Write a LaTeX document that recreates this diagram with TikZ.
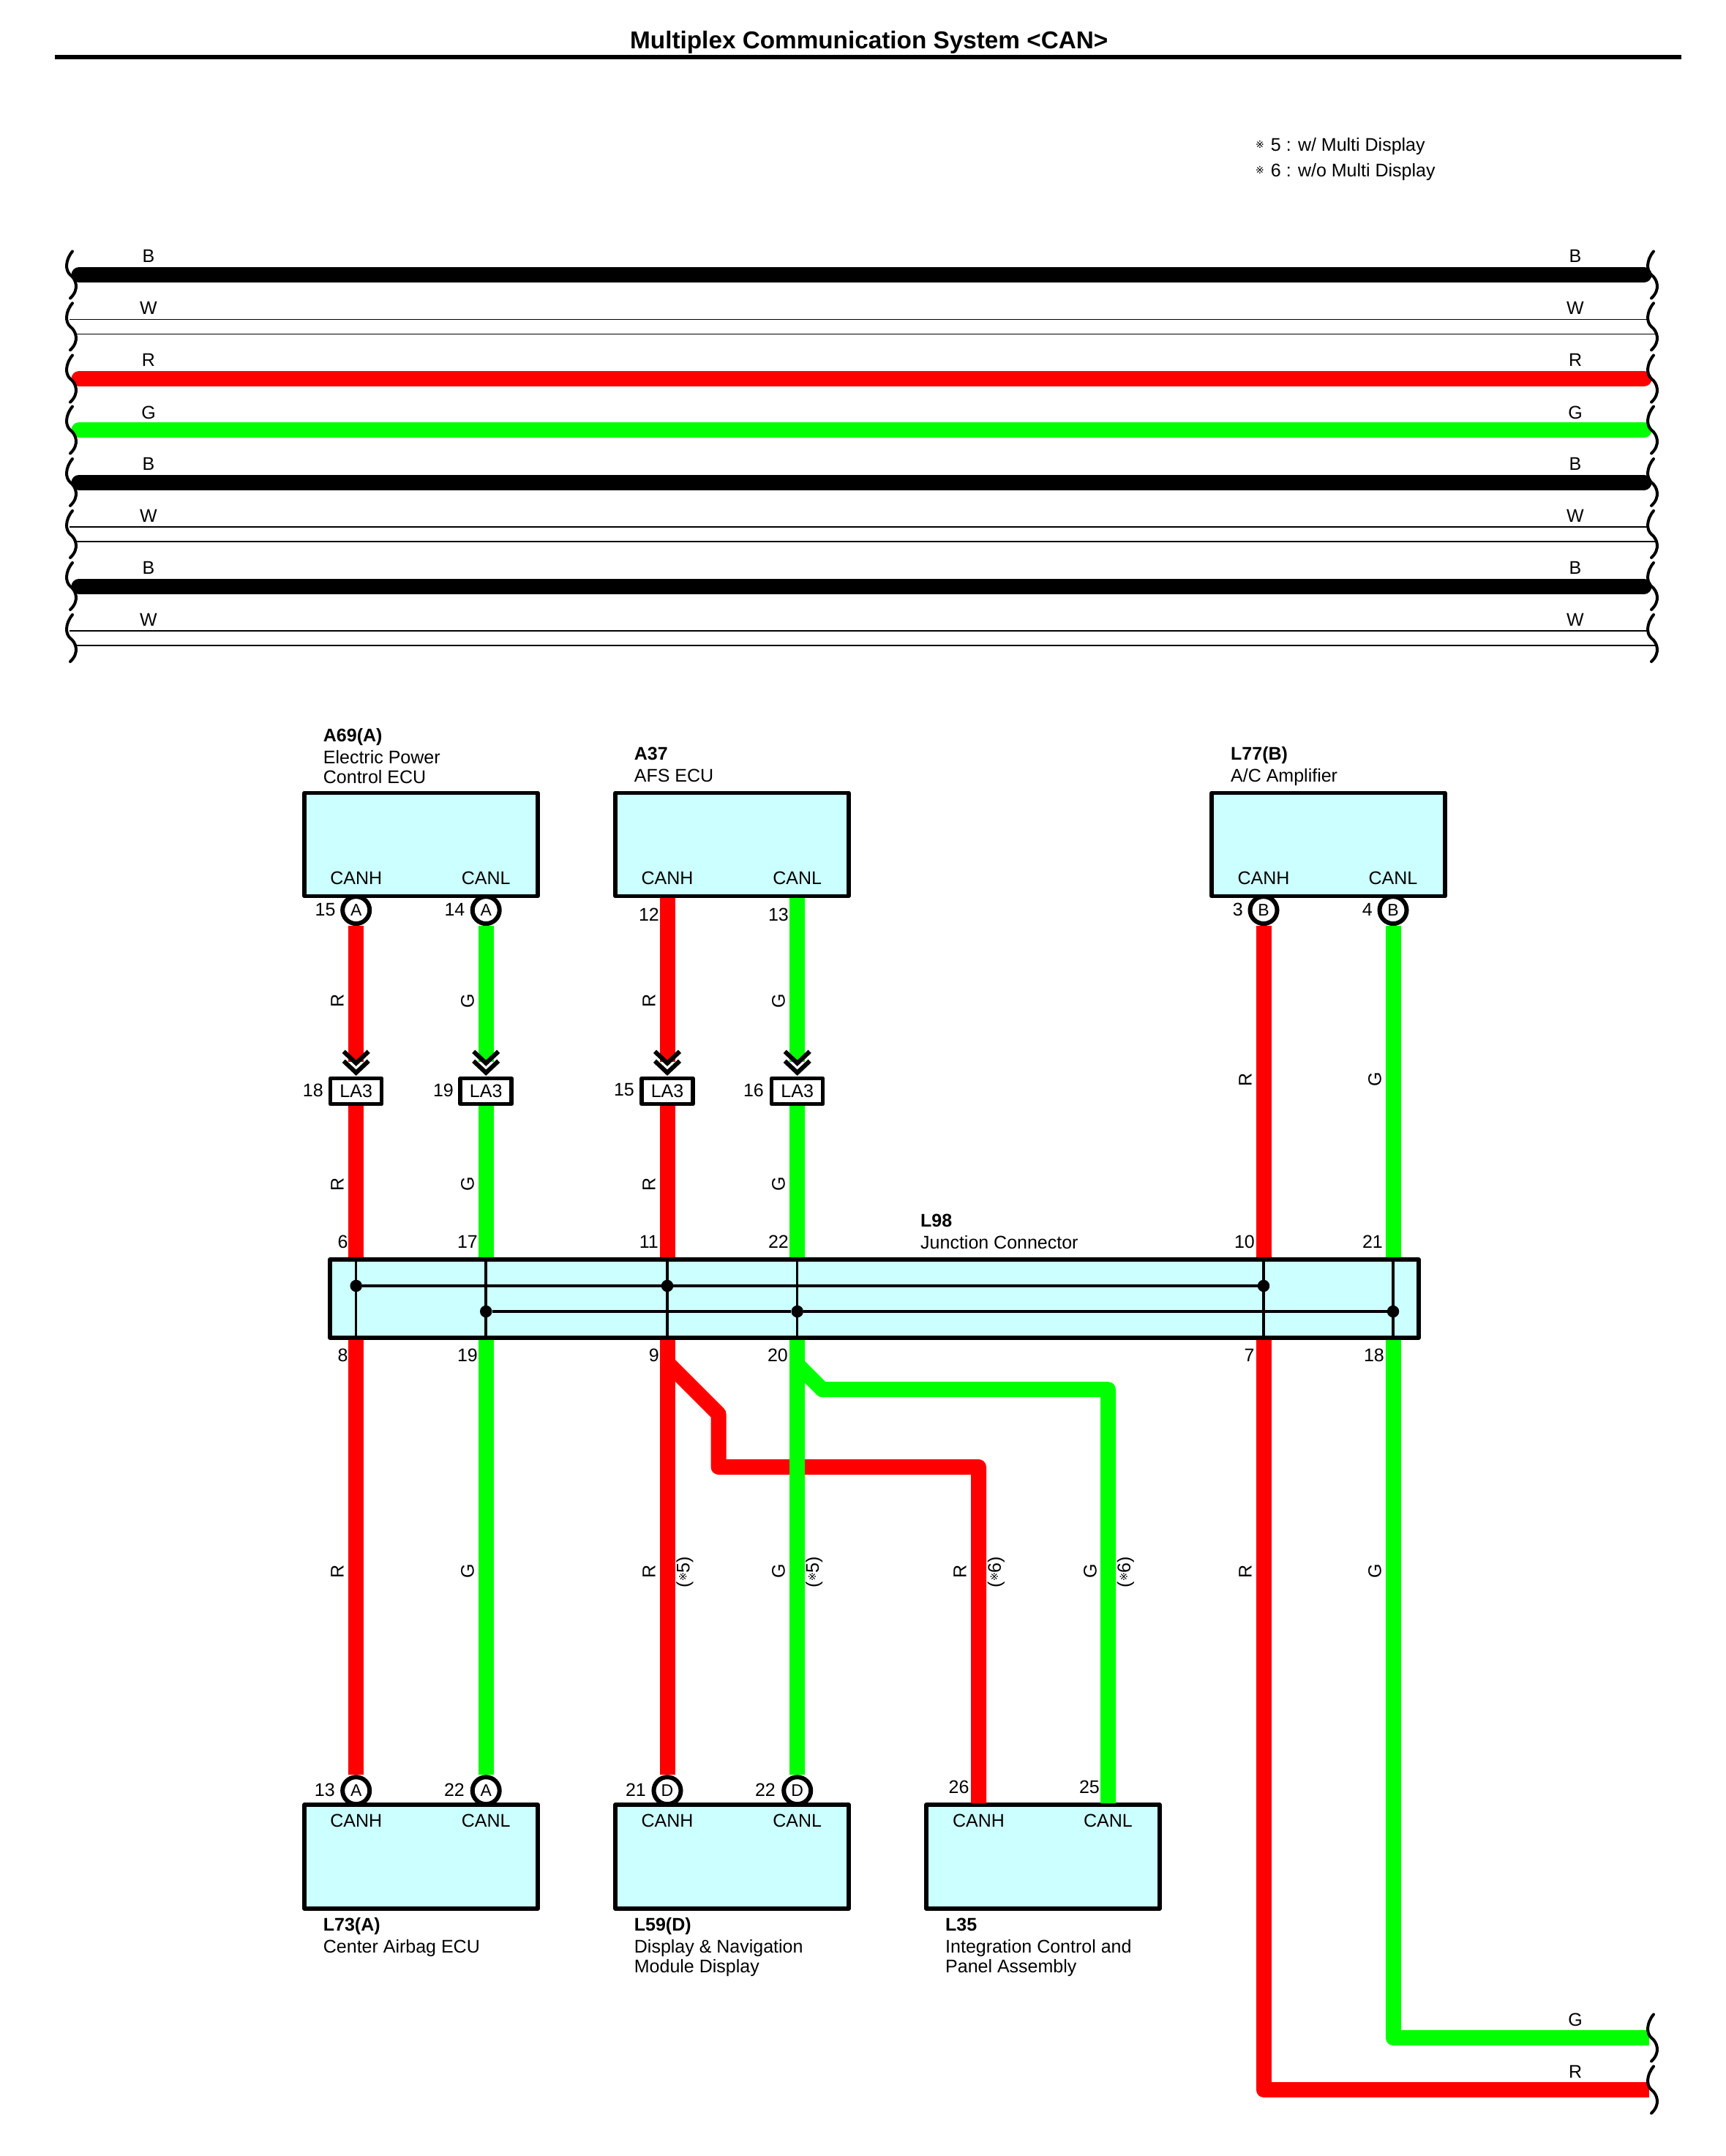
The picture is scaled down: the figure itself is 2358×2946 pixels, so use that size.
\documentclass[tikz,border=0pt]{standalone}
\usepackage{fontspec}
\setmainfont{Liberation Sans}
\newfontfamily\symfont{DejaVu Sans}
\newcommand{\refmark}{{\symfont\fontsize{14}{14}\selectfont\raisebox{4pt}{※}}}
\definecolor{boxfill}{HTML}{CCFFFF}
\definecolor{wirered}{HTML}{FF0000}
\definecolor{wiregreen}{HTML}{00FF00}
\tikzset{
  brk/.pic={\draw[line width=4pt, line cap=round] (3,-32) .. controls (-7,-20) and (-7,-6) .. (0,0) .. controls (8,6) and (13,20) .. (0,32);},
  chev/.pic={\draw[line width=6pt] (-17,-34) -- (0,-18) -- (17,-34); \draw[line width=6pt] (-17,-21) -- (0,-5) -- (17,-21);}
}
\begin{document}
\begin{tikzpicture}[x=1pt, y=-1pt]
        \tikzstyle{every node}=[inner sep=0pt, font=\fontsize{25}{27}\selectfont, text=black]
        \tikzstyle{ecubox}=[rectangle, draw=black, fill=boxfill, line width=5.5pt, line join=round, minimum width=319pt, minimum height=142pt]
        \tikzstyle{junction}=[rectangle, draw=black, fill=boxfill, line width=5.5pt, line join=round, minimum width=1488pt, minimum height=107pt]
        \tikzstyle{lathree}=[rectangle, draw=black, fill=white, line width=5.5pt, line join=round, minimum width=70pt, minimum height=35pt]
        \tikzstyle{pinmark}=[circle, draw=black, fill=white, line width=6pt, minimum size=37pt, font=\fontsize{23}{25}\selectfont]
        \tikzstyle{jdot}=[circle, fill=black, minimum size=16.5pt]
        \tikzstyle{num}=[anchor=east, xshift=2pt]
        \tikzstyle{wirelab}=[rotate=90]
        \tikzstyle{devlab}=[anchor=base west]
        \tikzstyle{redwire}=[wirered, line width=21pt, line join=round]
        \tikzstyle{greenwire}=[wiregreen, line width=21pt, line join=round]
        \tikzstyle{busblack}=[black, line width=21pt, line cap=round]
        \tikzstyle{busred}=[wirered, line width=21pt, line cap=round]
        \tikzstyle{busgreen}=[wiregreen, line width=21pt, line cap=round]
        \tikzstyle{thinwire}=[black, line width=1.2pt]
        \tikzstyle{jline}=[black, line width=3.5pt]

        \useasboundingbox (0,0) rectangle (2358,2946);

        \coordinate (rulel) at (75,78);
        \coordinate (ruler) at (2298,78);
        \draw[line width=6pt] (rulel) -- (ruler);
        \node[anchor=base west, font=\fontsize{33.3}{35}\selectfont\bfseries] (title) at (861,66.5) {Multiplex Communication System <CAN>};
        \node[devlab] (note) at (1716,207) {\begin{tabular}[t]{@{}l@{}} \refmark\hspace{9pt}5 : w/ Multi Display \\[8pt] \refmark\hspace{9pt}6 : w/o Multi Display \end{tabular}};

        \coordinate (bl1) at (108,375.5);  \coordinate (br1) at (2247,375.5);
        \coordinate (wl1a) at (95,436.3);  \coordinate (wr1a) at (2251,436.3);
        \coordinate (wl1b) at (104,456.3); \coordinate (wr1b) at (2262,456.3);
        \coordinate (bl2) at (108,517.5);  \coordinate (br2) at (2247,517.5);
        \coordinate (bl3) at (108,587.5);  \coordinate (br3) at (2247,587.5);
        \coordinate (bl4) at (108,659);    \coordinate (br4) at (2247,659);
        \coordinate (wl2a) at (95,720);    \coordinate (wr2a) at (2251,720);
        \coordinate (wl2b) at (104,740);   \coordinate (wr2b) at (2262,740);
        \coordinate (bl5) at (108,801);    \coordinate (br5) at (2247,801);
        \coordinate (wl3a) at (95,862);    \coordinate (wr3a) at (2251,862);
        \coordinate (wl3b) at (104,882);   \coordinate (wr3b) at (2262,882);

        \draw[busblack] (bl1) -- (br1);
        \draw[thinwire] (wl1a) -- (wr1a);
        \draw[thinwire] (wl1b) -- (wr1b);
        \draw[busred] (bl2) -- (br2);
        \draw[busgreen] (bl3) -- (br3);
        \draw[busblack] (bl4) -- (br4);
        \draw[thinwire] (wl2a) -- (wr2a);
        \draw[thinwire] (wl2b) -- (wr2b);
        \draw[busblack] (bl5) -- (br5);
        \draw[thinwire] (wl3a) -- (wr3a);
        \draw[thinwire] (wl3b) -- (wr3b);

        \node (tl1) at (203,350) {B};   \node (tr1) at (2153,350) {B};
        \node (tl2) at (203,421) {W};   \node (tr2) at (2153,421) {W};
        \node (tl3) at (203,492) {R};   \node (tr3) at (2153,492) {R};
        \node (tl4) at (203,563.5) {G}; \node (tr4) at (2153,563.5) {G};
        \node (tl5) at (203,634) {B};   \node (tr5) at (2153,634) {B};
        \node (tl6) at (203,705) {W};   \node (tr6) at (2153,705) {W};
        \node (tl7) at (203,775.5) {B}; \node (tr7) at (2153,775.5) {B};
        \node (tl8) at (203,847) {W};   \node (tr8) at (2153,847) {W};

        \pic at (96,375.5) {brk};  \pic at (2257,375.5) {brk};
        \pic at (96,446.3) {brk};  \pic at (2257,446.3) {brk};
        \pic at (96,517.5) {brk};  \pic at (2257,517.5) {brk};
        \pic at (96,587.5) {brk};  \pic at (2257,587.5) {brk};
        \pic at (96,659) {brk};    \pic at (2257,659) {brk};
        \pic at (96,730) {brk};    \pic at (2257,730) {brk};
        \pic at (96,801) {brk};    \pic at (2257,801) {brk};
        \pic at (96,872) {brk};    \pic at (2257,872) {brk};

        \node[pinmark] (a69h) at (486.7,1243.6) {A};
        \node[pinmark] (a69l) at (664.2,1243.6) {A};
        \node[pinmark] (l77h) at (1727,1243.6) {B};
        \node[pinmark] (l77l) at (1904,1243.6) {B};
        \node[pinmark] (l73h) at (486.7,2446.7) {A};
        \node[pinmark] (l73l) at (664.2,2446.7) {A};
        \node[pinmark] (l59h) at (912,2446.7) {D};
        \node[pinmark] (l59l) at (1089.7,2446.7) {D};

        \node[ecubox, minimum height=141pt] (a69) at (575.5,1154) {};
        \node[ecubox, minimum height=141pt] (a37) at (1000.5,1154) {};
        \node[ecubox, minimum height=141pt] (l77) at (1815.5,1154) {};
        \node[ecubox] (l73) at (575.5,2537) {};
        \node[ecubox] (l59) at (1000.5,2537) {};
        \node[ecubox] (l35) at (1425.5,2537) {};
        \node[junction] (jbox) at (1195,1774.5) {};

        \node (a69ch) at (486.7,1199.6) {CANH};
        \node (a69cl) at (664.2,1199.6) {CANL};
        \node (a37ch) at (912,1199.6) {CANH};
        \node (a37cl) at (1089.7,1199.6) {CANL};
        \node (l77ch) at (1727,1199.6) {CANH};
        \node (l77cl) at (1904,1199.6) {CANL};
        \node (l73ch) at (486.7,2488) {CANH};
        \node (l73cl) at (664.2,2488) {CANL};
        \node (l59ch) at (912,2488) {CANH};
        \node (l59cl) at (1089.7,2488) {CANL};
        \node (l35ch) at (1337.5,2488) {CANH};
        \node (l35cl) at (1514.5,2488) {CANL};

        \node[devlab] (a69t) at (441.7,1013) {\begin{tabular}[t]{@{}l@{}} \textbf{A69(A)} \\[3pt] Electric Power \\ Control ECU \end{tabular}};
        \node[devlab] (a37t) at (866.7,1038) {\begin{tabular}[t]{@{}l@{}} \textbf{A37} \\[3pt] AFS ECU \end{tabular}};
        \node[devlab] (l77t) at (1682,1038) {\begin{tabular}[t]{@{}l@{}} \textbf{L77(B)} \\[3pt] A/C Amplifier \end{tabular}};
        \node[devlab] (l98t) at (1258,1676) {\begin{tabular}[t]{@{}l@{}} \textbf{L98} \\[3pt] Junction Connector \end{tabular}};
        \node[devlab] (l73t) at (441.7,2638) {\begin{tabular}[t]{@{}l@{}} \textbf{L73(A)} \\[3pt] Center Airbag ECU \end{tabular}};
        \node[devlab] (l59t) at (866.7,2638) {\begin{tabular}[t]{@{}l@{}} \textbf{L59(D)} \\[3pt] Display \& Navigation \\ Module Display \end{tabular}};
        \node[devlab] (l35t) at (1292,2638) {\begin{tabular}[t]{@{}l@{}} \textbf{L35} \\[3pt] Integration Control and \\ Panel Assembly \end{tabular}};

        \node[lathree] (la18) at (486.7,1491) {LA3};
        \node[lathree] (la19) at (664.2,1491) {LA3};
        \node[lathree] (la15) at (912,1491) {LA3};
        \node[lathree] (la16) at (1089.7,1491) {LA3};

        \coordinate (ch18) at (486.7,1451);
        \coordinate (ch19) at (664.2,1451);
        \coordinate (ch15) at (912,1451);
        \coordinate (ch16) at (1089.7,1451);
        \coordinate (br9) at (912,1862);
        \coordinate (kn9a) at (982,1932);
        \coordinate (kn9b) at (982,2004.5);
        \coordinate (br20) at (1089.7,1864.4);
        \coordinate (kn20) at (1124,1898.7);
        \coordinate (l35h) at (1337.5,2464);
        \coordinate (l35l) at (1514.5,2464);
        \coordinate (endg) at (2254,2784.5);
        \coordinate (endr) at (2254,2855.5);

        \draw[redwire] (a69h) -- (ch18);
        \draw[greenwire] (a69l) -- (ch19);
        \draw[redwire] (a37.south -| la15) -- (ch15);
        \draw[greenwire] (a37.south -| la16) -- (ch16);
        \draw[redwire] (la18) -- (la18 |- jbox.north);
        \draw[greenwire] (la19) -- (la19 |- jbox.north);
        \draw[redwire] (la15) -- (la15 |- jbox.north);
        \draw[greenwire] (la16) -- (la16 |- jbox.north);
        \draw[redwire] (l77h) -- (l77h |- jbox.north);
        \draw[greenwire] (l77l) -- (l77l |- jbox.north);

        \draw[redwire] (la18 |- jbox.south) -- (l73h);
        \draw[greenwire] (la19 |- jbox.south) -- (l73l);
        \draw[redwire] (la15 |- jbox.south) -- (l59h);
        \draw[redwire] (br9) -- (kn9a) -- (kn9b) -| (l35h);
        \draw[greenwire] (la16 |- jbox.south) -- (l59l);
        \draw[greenwire] (br20) -- (kn20) -| (l35l);
        \draw[redwire] (l77h |- jbox.south) |- (endr);
        \draw[greenwire] (l77l |- jbox.south) |- (endg);

        \pic at (la18.north) {chev};
        \pic at (la19.north) {chev};
        \pic at (la15.north) {chev};
        \pic at (la16.north) {chev};

        \draw[jline] (la18 |- jbox.north) -- (la18 |- jbox.south);
        \draw[jline] (la19 |- jbox.north) -- (la19 |- jbox.south);
        \draw[jline] (la15 |- jbox.north) -- (la15 |- jbox.south);
        \draw[jline] (la16 |- jbox.north) -- (la16 |- jbox.south);
        \draw[jline] (l77h |- jbox.north) -- (l77h |- jbox.south);
        \draw[jline] (l77l |- jbox.north) -- (l77l |- jbox.south);

        \node[jdot] (jd1) at (486.7,1757) {};
        \node[jdot] (jd2) at (912,1757) {};
        \node[jdot] (jd3) at (1727,1757) {};
        \node[jdot] (jd4) at (664.2,1792) {};
        \node[jdot] (jd5) at (1089.7,1792) {};
        \node[jdot] (jd6) at (1904,1792) {};
        \draw[jline] (jd1) -- (jd2) -- (jd3);
        \draw[jline] (jd4) -- (jd5) -- (jd6);

        \node[num] (n15) at (456.7,1243) {15};
        \node[num] (n14) at (633.5,1243) {14};
        \node[num] (n12) at (899,1250) {12};
        \node[num] (n13) at (1076,1250) {13};
        \node[num] (n3) at (1697,1243) {3};
        \node[num] (n4) at (1874,1243) {4};
        \node[num] (n18) at (440,1489.5) {18};
        \node[num] (n19) at (618,1489.5) {19};
        \node[num] (n15b) at (865,1489.5) {15};
        \node[num] (n16) at (1042,1489.5) {16};
        \node[num] (n6) at (473.7,1696.7) {6};
        \node[num] (n17) at (651,1696.7) {17};
        \node[num] (n11) at (898,1696.7) {11};
        \node[num] (n22) at (1076,1696.7) {22};
        \node[num] (n10) at (1713,1696.7) {10};
        \node[num] (n21) at (1888,1696.7) {21};
        \node[num] (n8) at (473.7,1852) {8};
        \node[num] (n19b) at (651,1852) {19};
        \node[num] (n9) at (899,1852) {9};
        \node[num] (n20) at (1075,1852) {20};
        \node[num] (n7) at (1712.7,1852) {7};
        \node[num] (n18b) at (1890,1852) {18};
        \node[num] (n13b) at (456,2446) {13};
        \node[num] (n22b) at (633,2446) {22};
        \node[num] (n21b) at (881,2446) {21};
        \node[num] (n22c) at (1058,2446) {22};
        \node[num] (n26) at (1322.7,2441.7) {26};
        \node[num] (n25) at (1501,2441.7) {25};

        \node[wirelab] (wa1) at (461,1367.5) {R};
        \node[wirelab] (wa2) at (639,1367.5) {G};
        \node[wirelab] (wa3) at (887,1367.5) {R};
        \node[wirelab] (wa4) at (1064,1367.5) {G};
        \node[wirelab] (wb1) at (461,1618) {R};
        \node[wirelab] (wb2) at (639,1618) {G};
        \node[wirelab] (wb3) at (887,1618) {R};
        \node[wirelab] (wb4) at (1064,1618) {G};
        \node[wirelab] (wc1) at (1702,1475) {R};
        \node[wirelab] (wc2) at (1879,1475) {G};
        \node[wirelab] (wd1) at (461,2147) {R};
        \node[wirelab] (wd2) at (639,2147) {G};
        \node[wirelab] (wd3) at (887,2147) {R};
        \node[wirelab] (wd4) at (1064,2147) {G};
        \node[wirelab] (wd5) at (1312,2147) {R};
        \node[wirelab] (wd6) at (1490,2147) {G};
        \node[wirelab] (wd7) at (1702,2147) {R};
        \node[wirelab] (wd8) at (1879,2147) {G};
        \node[wirelab] (we1) at (936,2148) {(\refmark 5)};
        \node[wirelab] (we2) at (1112.7,2148) {(\refmark 5)};
        \node[wirelab] (we3) at (1361.5,2148) {(\refmark 6)};
        \node[wirelab] (we4) at (1538.5,2148) {(\refmark 6)};
        \node (tg) at (2153,2759.5) {G};
        \node (tr) at (2153,2830.7) {R};

        \pic at (2257,2784.5) {brk};
        \pic at (2257,2855.5) {brk};
    \end{tikzpicture}
\end{document}
